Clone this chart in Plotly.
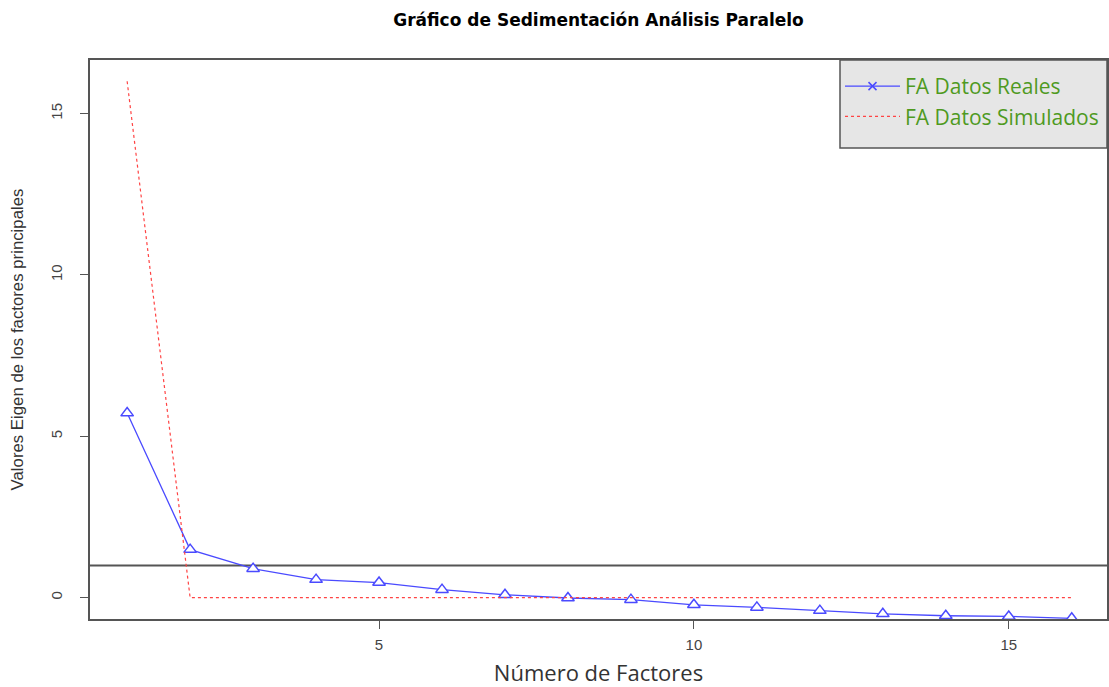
import plotly.graph_objects as go

factores = list(range(1, 17))
reales = [5.72, 1.49, 0.90, 0.56, 0.47, 0.25, 0.09, -0.01, -0.06, -0.22, -0.30, -0.40, -0.50, -0.56, -0.58, -0.64]
simulados = [16.0, 0.0, 0.0, 0.0, 0.0, 0.0, 0.0, 0.0, 0.0, 0.0, 0.0, 0.0, 0.0, 0.0, 0.0, 0.0]
linea_ref = 1
x_ticks = [5, 10, 15]
y_ticks = [0, 5, 10, 15]

L, R, T, B = 90, 2, 60, 68
W, H = 1109, 687
pw, ph = W - L - R, H - T - B

fig = go.Figure()
fig.add_hline(y=linea_ref, line=dict(color="#555555", width=2), layer="below")

fig.add_trace(go.Scatter(
    x=factores, y=reales, mode="lines+markers", showlegend=False,
    line=dict(color="#4a4aff", width=1.3),
    marker=dict(symbol="triangle-up", size=11, color="white",
                line=dict(color="#4a4aff", width=1.5)),
))
fig.add_trace(go.Scatter(
    x=factores, y=simulados, mode="lines", showlegend=False,
    line=dict(color="#ff4444", width=1.2, dash="dot"),
))
# legend proxies
fig.add_trace(go.Scatter(
    x=[None], y=[None], mode="lines+markers", name="FA Datos Reales",
    line=dict(color="#4a4aff", width=1.3),
    marker=dict(symbol="x-thin", size=8, line=dict(color="#4a4aff", width=1.5)),
))
fig.add_trace(go.Scatter(
    x=[None], y=[None], mode="lines", name="FA Datos Simulados",
    line=dict(color="#ff4444", width=1.2, dash="dot"),
))

# legend box
fig.add_shape(type="rect", xref="paper", yref="paper",
              x0=(840 - L) / pw, x1=1.0, y0=1 - (148 - T) / ph, y1=1.0,
              fillcolor="#e6e6e6", line=dict(color="#555555", width=1.5), layer="above")

fig.update_layout(
    width=W, height=H,
    margin=dict(l=L, r=R, t=T, b=B, autoexpand=False),
    paper_bgcolor="white", plot_bgcolor="white",
    title=dict(text="<b>Gráfico de Sedimentación Análisis Paralelo</b>",
               xref="paper", x=0.5, xanchor="center", y=1 - 20 / H, yanchor="middle",
               font=dict(family="DejaVu Sans", size=17, color="black")),
    xaxis=dict(range=[0.41, 16.56], tickvals=x_ticks, ticks="outside", ticklen=8,
               tickcolor="#555555", showgrid=False, zeroline=False, automargin=False,
               showline=True, mirror=True, linecolor="#555555", linewidth=1.5,
               ticklabelstandoff=3,
               tickfont=dict(family="Liberation Sans, Arial", size=15, color="#444444"),
               title=dict(text="Número de Factores", standoff=18,
                          font=dict(family="Open Sans", size=22, color="#333333"))),
    yaxis=dict(range=[-0.66, 16.66], tickvals=y_ticks, ticks="outside", ticklen=8,
               tickcolor="#555555", showgrid=False, zeroline=False, tickangle=-90,
               automargin=False, ticklabelstandoff=12,
               showline=True, mirror=True, linecolor="#555555", linewidth=1.5,
               tickfont=dict(family="Liberation Sans, Arial", size=15, color="#444444"),
               title=dict(text="Valores Eigen de los factores principales", standoff=20,
                          font=dict(family="Liberation Sans, Arial", size=16.8, color="#333333"))),
    legend=dict(x=(840 - L) / pw, xanchor="left", y=1 - 6 / ph, yanchor="top",
                bgcolor="rgba(0,0,0,0)", borderwidth=0,
                font=dict(family="Open Sans", size=21, color="#4f9a1f"),
                itemwidth=55),
)

fig.write_html("out.html", config={"displayModeBar": False},
               post_script="document.body.style.margin='0';")
